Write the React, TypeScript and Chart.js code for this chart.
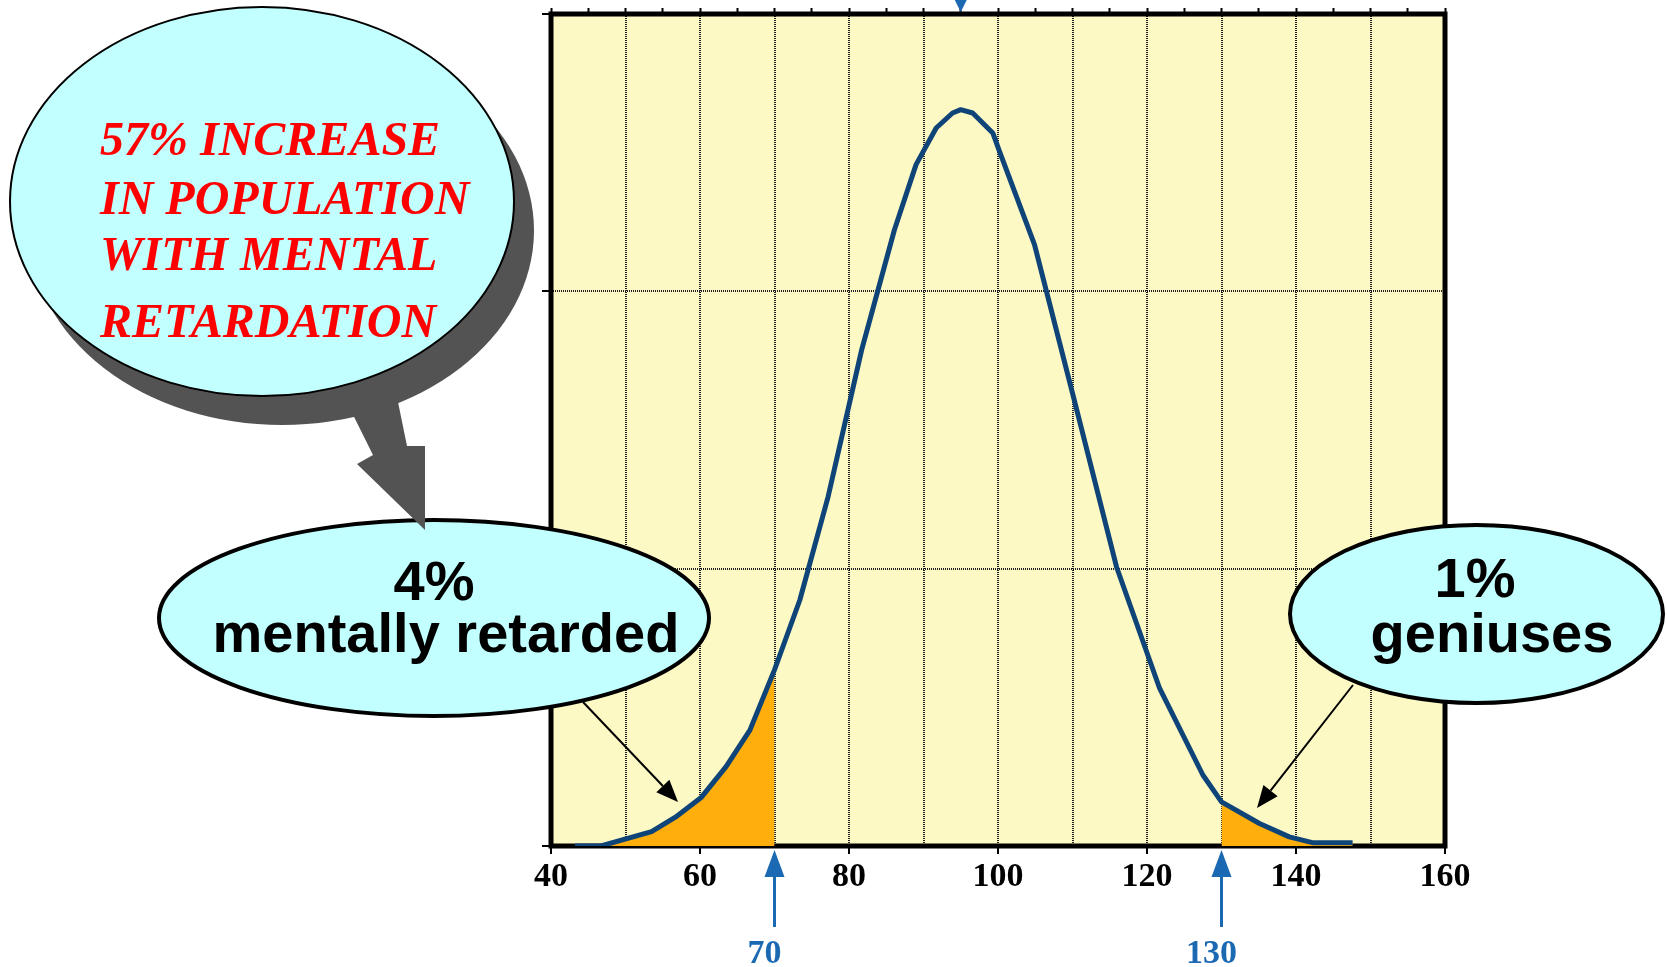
import React, { useEffect, useRef } from 'react';
import { Chart, registerables } from 'chart.js';

Chart.register(...registerables);

// IQ score (x) and relative share of population (y, arbitrary units 0..3)
const iqScores = [43.2, 46.7, 53.5, 56.7, 60.2, 63.5, 66.7, 70, 73.4, 77.2, 81.7, 86.1, 89.0, 91.7, 93.9, 95.0, 96.6, 99.3, 100.2, 104.9, 110.0, 115.9, 121.7, 127.5, 130, 135.1, 139.1, 142.2, 147.6];
const populationShare = [0.0, 0.0, 0.052, 0.104, 0.176, 0.286, 0.418, 0.635, 0.887, 1.26, 1.789, 2.222, 2.457, 2.589, 2.643, 2.655, 2.643, 2.571, 2.505, 2.168, 1.633, 1.007, 0.568, 0.256, 0.159, 0.081, 0.033, 0.012, 0.012];
const xTickLabels = [40, 60, 80, 100, 120, 140, 160];
const cutoffs = [70, 130];
const meanMarker = [95];
const increaseCallout = ['57% INCREASE', 'IN POPULATION', 'WITH MENTAL', 'RETARDATION'];
const retardedCallout = ['4%', 'mentally retarded'];
const geniusCallout = ['1%', 'geniuses'];

const BLUE = '#1b69b3';
const CYAN = '#c2ffff';

function drawArrow(ctx: CanvasRenderingContext2D, x1: number, y1: number, x2: number, y2: number, color: string, width: number, headLen: number, headHalf: number) {
  const ang = Math.atan2(y2 - y1, x2 - x1);
  const bx = x2 - headLen * Math.cos(ang);
  const by = y2 - headLen * Math.sin(ang);
  ctx.save();
  ctx.strokeStyle = color;
  ctx.lineWidth = width;
  ctx.beginPath();
  ctx.moveTo(x1, y1);
  ctx.lineTo(bx, by);
  ctx.stroke();
  ctx.fillStyle = color;
  ctx.beginPath();
  ctx.moveTo(x2, y2);
  ctx.lineTo(bx + headHalf * Math.sin(ang), by - headHalf * Math.cos(ang));
  ctx.lineTo(bx - headHalf * Math.sin(ang), by + headHalf * Math.cos(ang));
  ctx.closePath();
  ctx.fill();
  ctx.restore();
}

function ellipse(ctx: CanvasRenderingContext2D, cx: number, cy: number, rx: number, ry: number, fill: string, stroke: string | null, lw: number) {
  ctx.save();
  ctx.beginPath();
  ctx.ellipse(cx, cy, rx, ry, 0, 0, Math.PI * 2);
  ctx.fillStyle = fill;
  ctx.fill();
  if (stroke) {
    ctx.lineWidth = lw;
    ctx.strokeStyle = stroke;
    ctx.stroke();
  }
  ctx.restore();
}

const backgroundPlugin = {
  id: 'plotBackground',
  beforeDraw(chart: any) {
    const { ctx, chartArea: a } = chart;
    ctx.save();
    ctx.fillStyle = '#fdf9c4';
    ctx.fillRect(a.left, a.top, a.right - a.left, a.bottom - a.top);
    ctx.restore();
  },
  beforeDatasetsDraw(chart: any) {
    const { ctx, chartArea: a } = chart;
    ctx.save();
    ctx.strokeStyle = '#000';
    ctx.lineWidth = 5;
    ctx.strokeRect(a.left, a.top, a.right - a.left, a.bottom - a.top);
    ctx.restore();
  },
};

const annotationPlugin = {
  id: 'callouts',
  afterDraw(chart: any) {
    const { ctx, chartArea: a } = chart;
    const xs = chart.scales.x;

    // blue cutoff markers below the axis
    ctx.save();
    for (const v of cutoffs) {
      const px = xs.getPixelForValue(v);
      drawArrow(ctx, px, a.bottom + 81, px, a.bottom + 4, BLUE, 3, 27, 10);
      ctx.fillStyle = BLUE;
      ctx.font = 'bold 34px "Liberation Serif"';
      ctx.textAlign = 'center';
      ctx.textBaseline = 'alphabetic';
      ctx.fillText(String(v), px - 10, a.bottom + 117);
    }
    // mean marker at the top
    for (const v of meanMarker) {
      const px = xs.getPixelForValue(v);
      ctx.fillStyle = BLUE;
      ctx.beginPath();
      ctx.moveTo(px - 6, 0);
      ctx.lineTo(px + 6, 0);
      ctx.lineTo(px, a.top - 2);
      ctx.closePath();
      ctx.fill();
    }
    ctx.restore();

    // "4%" callout
    ellipse(ctx, 434, 618, 275, 98, CYAN, '#000', 4);
    drawArrow(ctx, 583, 702, 678, 802, '#000', 2, 22, 9);

    // big speech bubble
    ellipse(ctx, 282, 230.5, 252, 194.5, '#535353', null, 0);
    ctx.save();
    ctx.fillStyle = '#535353';
    ctx.beginPath();
    ctx.moveTo(353.6, 416);
    ctx.lineTo(373, 455);
    ctx.lineTo(357, 464);
    ctx.lineTo(425, 530);
    ctx.lineTo(425, 446);
    ctx.lineTo(407, 446);
    ctx.lineTo(398, 402);
    ctx.closePath();
    ctx.fill();
    ctx.restore();
    ellipse(ctx, 262, 201.5, 252, 194.5, CYAN, '#000', 2);

    ctx.save();
    ctx.fillStyle = '#ff0000';
    ctx.font = 'italic bold 48px "Liberation Serif"';
    ctx.textAlign = 'left';
    ctx.textBaseline = 'alphabetic';
    const baselines = [155, 214, 270, 337];
    increaseCallout.forEach((t, i) => ctx.fillText(t, 100, baselines[i]));
    ctx.restore();

    ctx.save();
    ctx.fillStyle = '#000';
    ctx.font = 'bold 56px "Liberation Sans"';
    ctx.textAlign = 'center';
    ctx.textBaseline = 'alphabetic';
    ctx.fillText(retardedCallout[0], 434, 600);
    ctx.fillText(retardedCallout[1], 446, 652);
    ctx.restore();

    // "1%" callout
    ellipse(ctx, 1476.5, 614, 186.5, 89, CYAN, '#000', 4);
    drawArrow(ctx, 1353, 685, 1257, 808, '#000', 2, 22, 9);
    ctx.save();
    ctx.fillStyle = '#000';
    ctx.font = 'bold 56px "Liberation Sans"';
    ctx.textAlign = 'center';
    ctx.textBaseline = 'alphabetic';
    ctx.fillText(geniusCallout[0], 1475, 597);
    ctx.fillText(geniusCallout[1], 1492, 652);
    ctx.restore();
  },
};

export default function App() {
  const ref = useRef<HTMLCanvasElement>(null);

  useEffect(() => {
    if (!ref.current) return;
    const points = iqScores.map((x, i) => ({ x, y: populationShare[i] }));
    const lowerTail = points.filter((p) => p.x <= cutoffs[0]);
    const upperTail = points.filter((p) => p.x >= cutoffs[1]);

    const gridColor = '#1e1e1e';
    const chart = new Chart(ref.current, {
      type: 'line',
      data: {
        datasets: [
          {
            data: points,
            borderColor: '#0f4478',
            borderWidth: 5,
            pointRadius: 0,
            tension: 0,
            fill: false,
            order: 0,
            borderJoinStyle: 'round',
          },
          {
            data: lowerTail,
            borderWidth: 0,
            borderColor: 'transparent',
            backgroundColor: '#ffae0c',
            pointRadius: 0,
            fill: 'origin',
            order: 1,
          },
          {
            data: upperTail,
            borderWidth: 0,
            borderColor: 'transparent',
            backgroundColor: '#ffae0c',
            pointRadius: 0,
            fill: 'origin',
            order: 1,
          },
        ],
      } as any,
      options: {
        responsive: false,
        devicePixelRatio: 1,
        animation: false,
        layout: { padding: 0 },
        plugins: { legend: { display: false }, tooltip: { enabled: false } },
        scales: {
          x: {
            type: 'linear',
            position: 'bottom',
            min: 40,
            max: 160,
            afterFit: (s: any) => { s.height = 121; },
            ticks: {
              stepSize: 10,
              autoSkip: false,
              maxRotation: 0,
              padding: 3,
              color: '#000',
              font: { family: '"Liberation Serif"', size: 34, weight: 'bold' },
              callback: (v: any) => (xTickLabels.includes(Number(v)) ? String(v) : ''),
            },
            grid: {
              color: gridColor,
              lineWidth: 2,
              tickLength: 8,
              tickWidth: 2,
              tickColor: (c: any) => (xTickLabels.includes(c.tick?.value) ? '#000' : 'transparent'),
              tickBorderDash: [],
            },
            border: { display: false, dash: [1, 1] },
          },
          xTop: {
            type: 'linear',
            position: 'top',
            min: 40,
            max: 160,
            afterFit: (s: any) => { s.height = 14; },
            ticks: { display: false, stepSize: 5, autoSkip: false },
            grid: { drawOnChartArea: false, tickLength: 6, tickWidth: 2, tickColor: '#000', color: '#000' },
            border: { display: false },
          },
          y: {
            type: 'linear',
            position: 'left',
            min: 0,
            max: 3,
            afterFit: (s: any) => { s.width = 551; },
            ticks: { display: false, stepSize: 1 },
            grid: {
              color: (c: any) => (c.tick && (c.tick.value === 0 || c.tick.value === 3) ? 'transparent' : gridColor),
              lineWidth: 2,
              tickLength: 9,
              tickWidth: 2,
              tickColor: '#000',
              tickBorderDash: [],
            },
            border: { display: false, dash: [1, 1] },
          },
          yRight: {
            type: 'linear',
            position: 'right',
            min: 0,
            max: 3,
            afterFit: (s: any) => { s.width = 222; },
            ticks: { display: false },
            grid: { display: false },
            border: { display: false },
          },
        },
      } as any,
      plugins: [backgroundPlugin, annotationPlugin],
    });
    return () => chart.destroy();
  }, []);

  return (
    <div style={{ position: 'absolute', left: 0, top: 0, width: 1667, height: 967, background: '#fff' }}>
      <canvas ref={ref} width={1667} height={967} style={{ display: 'block' }} />
    </div>
  );
}
